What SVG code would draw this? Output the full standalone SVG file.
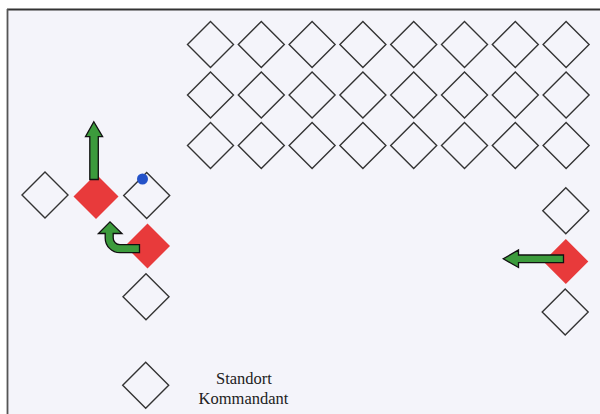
<svg xmlns="http://www.w3.org/2000/svg" width="600" height="414" viewBox="0 0 600 414" xmlns:xlink="http://www.w3.org/1999/xlink">
<style>
.w{fill:none;stroke:#333;stroke-width:1.4;stroke-linejoin:miter}
.r{fill:#e83a3b;stroke:none}
.g{fill:#3c9b3c;stroke:#111;stroke-width:1.3;stroke-linejoin:miter}
.t{font-family:"Liberation Serif","Times New Roman",serif;font-size:16.5px;fill:#222;text-anchor:middle}
</style>
<defs>
<polygon id="d" points="0,-23 23,0 0,23 -23,0"/>
<polygon id="rd" points="0,-22.5 22.5,0 0,22.5 -22.5,0"/>
</defs>
<rect x="0" y="0" width="600" height="414" fill="#fff"/>
<rect x="7.5" y="9.5" width="592.5" height="404.5" fill="#f4f4fa"/>
<line x1="7" y1="9.5" x2="600" y2="9.5" stroke="#333" stroke-width="1.8"/>
<line x1="7.5" y1="9" x2="7.5" y2="414" stroke="#555" stroke-width="1.8"/>
<g id="grid">
<g id="n-1-1"><use xlink:href="#d" class="w" x="210.5" y="44.5"/></g>
<g id="n-1-2"><use xlink:href="#d" class="w" x="261.3" y="44.5"/></g>
<g id="n-1-3"><use xlink:href="#d" class="w" x="312.1" y="44.5"/></g>
<g id="n-1-4"><use xlink:href="#d" class="w" x="362.9" y="44.5"/></g>
<g id="n-1-5"><use xlink:href="#d" class="w" x="413.7" y="44.5"/></g>
<g id="n-1-6"><use xlink:href="#d" class="w" x="464.5" y="44.5"/></g>
<g id="n-1-7"><use xlink:href="#d" class="w" x="515.3" y="44.5"/></g>
<g id="n-1-8"><use xlink:href="#d" class="w" x="566.1" y="44.5"/></g>
<g id="n-2-1"><use xlink:href="#d" class="w" x="210.5" y="95"/></g>
<g id="n-2-2"><use xlink:href="#d" class="w" x="261.3" y="95"/></g>
<g id="n-2-3"><use xlink:href="#d" class="w" x="312.1" y="95"/></g>
<g id="n-2-4"><use xlink:href="#d" class="w" x="362.9" y="95"/></g>
<g id="n-2-5"><use xlink:href="#d" class="w" x="413.7" y="95"/></g>
<g id="n-2-6"><use xlink:href="#d" class="w" x="464.5" y="95"/></g>
<g id="n-2-7"><use xlink:href="#d" class="w" x="515.3" y="95"/></g>
<g id="n-2-8"><use xlink:href="#d" class="w" x="566.1" y="95"/></g>
<g id="n-3-1"><use xlink:href="#d" class="w" x="210.5" y="145.5"/></g>
<g id="n-3-2"><use xlink:href="#d" class="w" x="261.3" y="145.5"/></g>
<g id="n-3-3"><use xlink:href="#d" class="w" x="312.1" y="145.5"/></g>
<g id="n-3-4"><use xlink:href="#d" class="w" x="362.9" y="145.5"/></g>
<g id="n-3-5"><use xlink:href="#d" class="w" x="413.7" y="145.5"/></g>
<g id="n-3-6"><use xlink:href="#d" class="w" x="464.5" y="145.5"/></g>
<g id="n-3-7"><use xlink:href="#d" class="w" x="515.3" y="145.5"/></g>
<g id="n-3-8"><use xlink:href="#d" class="w" x="566.1" y="145.5"/></g>
</g>
<g id="left-white"><use xlink:href="#d" class="w" x="45" y="195"/></g>
<g id="left-red"><use xlink:href="#rd" class="r" x="96" y="196.5"/></g>
<g id="left-dot"><use xlink:href="#d" class="w" x="146.7" y="195.5"/><circle cx="142.5" cy="179" r="5.5" fill="#2452c8"/></g>
<g id="mid-red"><use xlink:href="#rd" class="r" x="147.5" y="246"/></g>
<g id="mid-white"><use xlink:href="#d" class="w" x="146" y="296.7"/></g>
<g id="right-white-top"><use xlink:href="#d" class="w" x="565.8" y="210.8"/></g>
<g id="right-red"><use xlink:href="#rd" class="r" x="565.8" y="261.5"/></g>
<g id="right-white-bottom"><use xlink:href="#d" class="w" x="565.2" y="312"/></g>
<g id="legend">
<use xlink:href="#d" class="w" x="145.7" y="385.3"/>
<text class="t" x="244" y="384">Standort</text>
<text class="t" x="243.5" y="404">Kommandant</text>
</g>
<g id="connectors">
<path class="g" d="M89.8,179.5 V136.7 H85.5 L93.8,121.7 L102.6,136.7 H98.3 V179.5 Z"/>
<path class="g" d="M139.5,252.7 H120 A14.8,14.8 0 0 1 105.2,237.9 V233.5 H98.4 L110,221.8 L122,233.5 H113.2 V237.9 A6.8,6.8 0 0 0 120,244.7 H139.5 Z"/>
<path class="g" d="M563.5,255 H518.5 V250 L503.3,258.8 L518.5,267.5 V262.7 H563.5 Z"/>
</g>
</svg>
